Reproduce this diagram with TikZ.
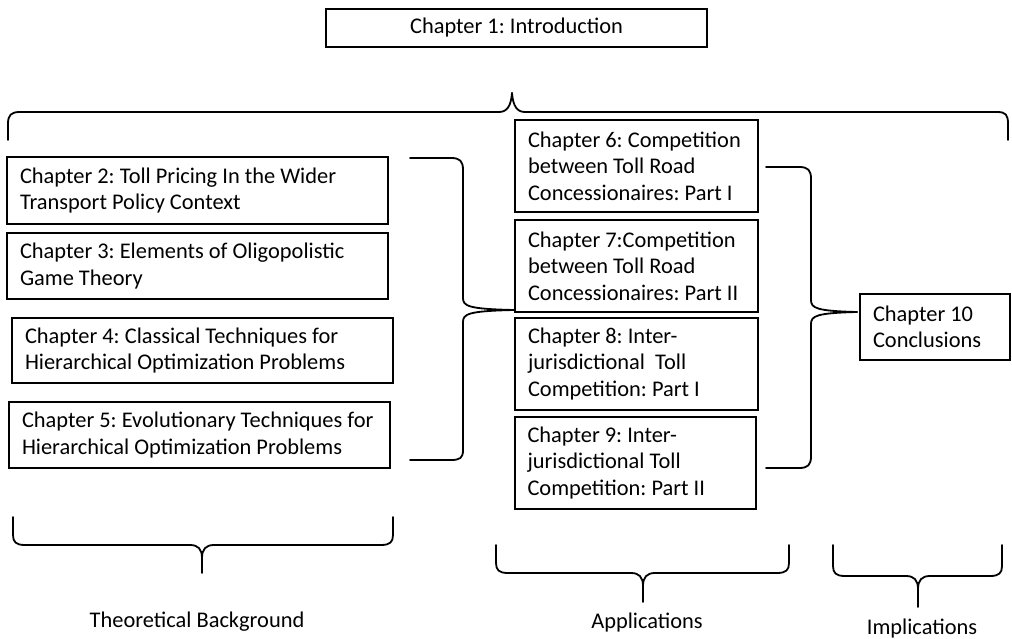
\documentclass[tikz,border=0pt]{standalone}
\usepackage{fontspec}
\setmainfont{Carlito}
\newcommand\boxfont{\fontsize{22.4}{26.5}\selectfont\frenchspacing\hyphenpenalty=10000\relax}
\begin{document}
\begin{tikzpicture}[x=1pt,y=-1pt,
  every node/.style={font=\boxfont},
  chap/.style={draw, line width=2pt, inner xsep=13pt, inner ysep=0pt, align=flush left},
  brace/.style={draw, line width=1.8pt, line join=round, line cap=round},
  lbl/.style={anchor=base, inner sep=0pt}]
\useasboundingbox (0,0) rectangle (1012,639);

% chapter boxes
\node[chap, align=center, minimum width=381pt, minimum height=38pt] (c1) at (516.5,28) {Chapter 1: Introduction};

\node[chap, text width=355pt, minimum height=67pt] (c2) at (197.5,190.5) {Chapter 2: Toll Pricing In the Wider\\Transport Policy Context};
\node[chap, text width=355pt, minimum height=66pt] (c3) at (197.5,266) {Chapter 3: Elements of Oligopolistic\\Game Theory};
\node[chap, text width=355pt, minimum height=65pt] (c4) at (202.5,350.5) {Chapter 4: Classical Techniques for\\Hierarchical Optimization Problems};
\node[chap, text width=355pt, minimum height=66pt] (c5) at (199.5,435) {Chapter 5: Evolutionary Techniques for\\Hierarchical Optimization Problems};

\node[chap, text width=217pt, minimum height=92pt] (c6) at (636.5,166) {Chapter 6: Competition\\between Toll Road\\Concessionaires: Part I};
\node[chap, text width=217pt, minimum height=92pt] (c7) at (636.5,266) {Chapter 7:Competition\\between Toll Road\\Concessionaires: Part II};
\node[chap, text width=217pt, minimum height=92pt] (c8) at (636.5,364) {Chapter 8: Inter-\\jurisdictional~ Toll\\Competition: Part I};
\node[chap, text width=215pt, minimum height=92pt] (c9) at (635,463) {Chapter 9: Inter-\\jurisdictional Toll\\Competition: Part II};

\node[chap, text width=124pt, minimum height=66pt] (c10) at (935,327) {Chapter 10\\Conclusions};

% brace under the introduction, spanning all parts
\draw[brace] (8,140) -- (8,124) .. controls (8,115) and (11,112) .. (20,112)
  -- (499,112) .. controls (507,112) and (511,106) .. (512,93);
\draw[brace] (512,93) .. controls (513,106) and (517,112) .. (525,112)
  -- (997,112) .. controls (1006,112) and (1008,115) .. (1008,124) -- (1008,140);

% brace gathering chapters 2-5
\draw[brace] (410,158) -- (451,158) .. controls (460,158) and (463,161) .. (463,170)
  -- (463,298) .. controls (463,306) and (468,309) .. (514,310);
\draw[brace] (514,310) .. controls (468,311) and (463,314) .. (463,322)
  -- (463,450) .. controls (463,458) and (460,460) .. (451,460) -- (410,460);

% brace gathering chapters 6-9
\draw[brace] (766,167) -- (799,167) .. controls (808,167) and (811,170) .. (811,179)
  -- (811,300) .. controls (811,308) and (816,311) .. (857,312);
\draw[brace] (857,312) .. controls (816,313) and (811,316) .. (811,324)
  -- (811,456) .. controls (811,465) and (808,468) .. (799,468) -- (766,468);

% braces over the part labels
\draw[brace] (13,517) -- (13,535) .. controls (13,542) and (16,545) .. (25,545)
  -- (190,545) .. controls (198,545) and (202,549) .. (202,558) -- (202,573);
\draw[brace] (202,558) .. controls (202,549) and (206,545) .. (214,545)
  -- (381,545) .. controls (390,545) and (393,542) .. (393,535) -- (393,517);

\draw[brace] (496,545) -- (496,563) .. controls (496,570) and (499,573) .. (508,573)
  -- (631,573) .. controls (639,573) and (643,577) .. (643,586) -- (643,602);
\draw[brace] (643,586) .. controls (643,577) and (647,573) .. (655,573)
  -- (777,573) .. controls (786,573) and (789,570) .. (789,563) -- (789,545);

\draw[brace] (833,545) -- (833,566) .. controls (833,573) and (836,576) .. (845,576)
  -- (906,576) .. controls (914,576) and (918,580) .. (918,589) -- (918,607);
\draw[brace] (918,589) .. controls (918,580) and (922,576) .. (930,576)
  -- (990,576) .. controls (999,576) and (1002,573) .. (1002,566) -- (1002,545);

% part labels
\node[lbl] (tb) at (197,627) {Theoretical Background};
\node[lbl] (ap) at (647,628) {Applications};
\node[lbl] (im) at (922,634) {Implications};
\end{tikzpicture}
\end{document}
